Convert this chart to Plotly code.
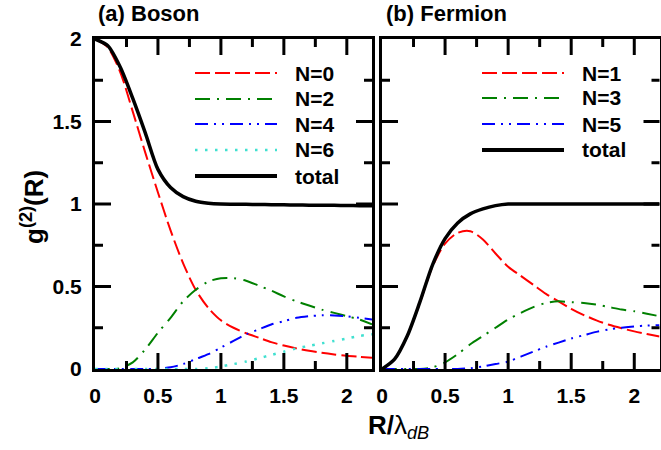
import plotly.graph_objects as go

W, H = 661, 450

# ---------------- data ----------------
R = [0.0, 0.1, 0.2, 0.3, 0.4, 0.5, 0.6, 0.7, 0.8, 0.9, 1.0, 1.1,
     1.2, 1.3, 1.4, 1.5, 1.6, 1.7, 1.8, 1.9, 2.0, 2.1, 2.2]

# (a) Boson
boson_N0 = [2.0, 1.95, 1.8, 1.56, 1.31, 1.07, 0.84, 0.64, 0.48, 0.37, 0.295, 0.25,
            0.217, 0.19, 0.163, 0.142, 0.125, 0.11, 0.098, 0.088, 0.08, 0.074, 0.068]
boson_N2 = [0.0, 0.0, 0.005, 0.04, 0.12, 0.22, 0.31, 0.41, 0.48, 0.53, 0.55, 0.55,
            0.535, 0.505, 0.475, 0.44, 0.41, 0.385, 0.36, 0.34, 0.32, 0.3, 0.27]
boson_N4 = [0.0, 0.0, 0.0, 0.0, 0.0, 0.002, 0.01, 0.03, 0.06, 0.09, 0.13, 0.17,
            0.21, 0.24, 0.27, 0.29, 0.31, 0.32, 0.325, 0.325, 0.32, 0.31, 0.3]
boson_N6 = [0.0, 0.0, 0.0, 0.0, 0.0, 0.0, 0.0, 0.0, 0.0, 0.005, 0.015, 0.03,
            0.045, 0.065, 0.085, 0.105, 0.125, 0.14, 0.155, 0.17, 0.185, 0.2, 0.21]
boson_total = [2.0, 1.96, 1.83, 1.64, 1.43, 1.21, 1.1, 1.045, 1.017, 1.005, 1.0, 0.999,
               0.998, 0.997, 0.996, 0.995, 0.994, 0.993, 0.992, 0.992, 0.991, 0.99, 0.99]

# (b) Fermion
fermion_N1 = [0.0, 0.06, 0.2, 0.4, 0.62, 0.76, 0.825, 0.835, 0.785, 0.7, 0.62, 0.565,
              0.51, 0.455, 0.41, 0.365, 0.327, 0.295, 0.268, 0.247, 0.228, 0.212, 0.197]
fermion_N3 = [0.0, 0.0, 0.0, 0.0, 0.01, 0.04, 0.09, 0.15, 0.2, 0.25, 0.3, 0.34,
              0.375, 0.4, 0.41, 0.405, 0.4, 0.39, 0.375, 0.36, 0.35, 0.335, 0.32]
fermion_N5 = [0.0, 0.0, 0.0, 0.0, 0.0, 0.0, 0.0, 0.005, 0.015, 0.03, 0.045, 0.075,
              0.105, 0.135, 0.16, 0.185, 0.205, 0.225, 0.24, 0.25, 0.258, 0.263, 0.265]
fermion_total = [0.0, 0.06, 0.2, 0.405, 0.63, 0.79, 0.885, 0.94, 0.97, 0.99, 1.0, 1.0,
                 1.0, 1.0, 1.0, 1.0, 1.0, 1.0, 1.0, 1.0, 1.0, 1.0, 1.0]

boson_labels = ["N=0", "N=2", "N=4", "N=6", "total"]
fermion_labels = ["N=1", "N=3", "N=5", "total"]

# tick positions (labels at the major ones)
x_major = [0.5, 1.0, 1.5, 2.0]
x_minor = [0.25, 0.75, 1.25, 1.75]
y_major = [0.5, 1.0, 1.5]
y_minor = [0.25, 0.75, 1.25, 1.75]

# ---------------- styles ----------------
STY = {
    "red": dict(color="#ff0000", width=2, dash="15px,5px"),
    "green": dict(color="#008000", width=2, dash="15px,7px,2px,7px"),
    "blue": dict(color="#0000ff", width=2, dash="13px,6px,2px,6px,2px,6px"),
    "cyan": dict(color="#40e0d0", width=2.5, dash="2.5px,7.5px"),
    "black": dict(color="#000000", width=3.5, dash="solid"),
}
FONT = "Liberation Sans, Arial, Helvetica, sans-serif"

fig = go.Figure()

boson_series = [boson_N0, boson_N2, boson_N4, boson_N6, boson_total]
boson_styles = ["red", "green", "blue", "cyan", "black"]
for ys, s, name in zip(boson_series, boson_styles, boson_labels):
    fig.add_trace(go.Scatter(x=R, y=ys, mode="lines", name=name,
                             line=dict(shape="spline", smoothing=0.8, **STY[s]),
                             xaxis="x", yaxis="y", showlegend=False))

fermion_series = [fermion_N1, fermion_N3, fermion_N5, fermion_total]
fermion_styles = ["red", "green", "blue", "black"]
for ys, s, name in zip(fermion_series, fermion_styles, fermion_labels):
    fig.add_trace(go.Scatter(x=R, y=ys, mode="lines", name=name,
                             line=dict(shape="spline", smoothing=0.8, **STY[s]),
                             xaxis="x2", yaxis="y2", showlegend=False))

def px_x(p):
    return p / W

def px_y(p):
    return 1 - p / H

def axis_common():
    return dict(
        showline=True, linewidth=3, linecolor="black", mirror=True,
        ticks="", tickmode="linear", tick0=0, dtick=0.5,
        showgrid=False, zeroline=False, automargin=False,
        tickfont=dict(family=FONT, size=21, color="black", weight="bold"),
    )

X0, X1, X2a, X2b = 95, 372, 382, 659.5
Y_TOP, Y_BOT = 39, 369
xdom1 = [px_x(X0), px_x(X1)]
xdom2 = [px_x(X2a), px_x(X2b)]
ydom = [px_y(Y_BOT), px_y(Y_TOP)]
fig.update_layout(
    template="none",
    width=W, height=H,
    margin=dict(l=0, r=0, t=0, b=0, autoexpand=False),
    paper_bgcolor="white", plot_bgcolor="white",
    showlegend=False,
    xaxis=dict(domain=xdom1, range=[0, 2.2], anchor="y", ticklabelstandoff=6, **axis_common()),
    yaxis=dict(domain=ydom, range=[0, 2], anchor="x", ticklabelstandoff=6, **axis_common()),
    xaxis2=dict(domain=xdom2, range=[0, 2.2], anchor="y2", ticklabelstandoff=6, **axis_common()),
    yaxis2=dict(domain=ydom, range=[0, 2], anchor="x2", showticklabels=False, **axis_common()),
)

annotations = []
shapes = []

# ---- inward tick marks on all four sides of each panel (placed on the axes' own scales) ----
MAJ, MIN = 16, 8
panels = [("x", "y", X1 - X0), ("x2", "y2", X2b - X2a)]
plot_h = Y_BOT - Y_TOP
for xa, ya, pw in panels:
    for vals, ln in ((x_major, MAJ), (x_minor, MIN)):
        f = ln / plot_h
        for v in vals:
            for a, b in ((0, f), (1, 1 - f)):
                shapes.append(dict(type="line", xref=xa, yref=ya + " domain", x0=v, x1=v, y0=a, y1=b,
                                   line=dict(color="black", width=3), layer="above"))
    for vals, ln in ((y_major, MAJ), (y_minor, MIN)):
        f = ln / pw
        for v in vals:
            for a, b in ((0, f), (1, 1 - f)):
                shapes.append(dict(type="line", xref=xa + " domain", yref=ya, x0=a, x1=b, y0=v, y1=v,
                                   line=dict(color="black", width=3), layer="above"))

# panel titles
annotations.append(dict(text="<b>(a) Boson</b>", x=px_x(96), y=px_y(14), xref="paper", yref="paper",
                        xanchor="left", yanchor="middle", showarrow=False,
                        font=dict(family=FONT, size=22, color="black")))
annotations.append(dict(text="<b>(b) Fermion</b>", x=px_x(384), y=px_y(14), xref="paper", yref="paper",
                        xanchor="left", yanchor="middle", showarrow=False,
                        font=dict(family=FONT, size=22, color="black")))

# axis titles
annotations.append(dict(text="<b>g<sup>(2)</sup>(R)</b>", x=px_x(33), y=px_y(207), xref="paper", yref="paper",
                        xanchor="center", yanchor="middle", textangle=-90, showarrow=False,
                        font=dict(family=FONT, size=26, color="black")))
annotations.append(dict(text="<b>R/</b>λ<sub><i>dB</i></sub>", x=px_x(398), y=px_y(426), xref="paper", yref="paper",
                        xanchor="center", yanchor="middle", showarrow=False,
                        font=dict(family=FONT, size=26, color="black")))

# legends (drawn as line samples + labels)
def add_legend(x0, x1, xt, rows, labels, styles):
    for yy, lab, s in zip(rows, labels, styles):
        st = STY[s]
        shapes.append(dict(type="line", xref="paper", yref="paper",
                           x0=px_x(x0), x1=px_x(x1), y0=px_y(yy), y1=px_y(yy),
                           line=dict(color=st["color"], width=st["width"] if s != "black" else 4, dash=st["dash"])))
        annotations.append(dict(text="<b>" + lab + "</b>", x=px_x(xt), y=px_y(yy), xref="paper", yref="paper",
                                xanchor="left", yanchor="middle", showarrow=False,
                                font=dict(family=FONT, size=21, color="black")))

add_legend(195, 277, 293, [73, 99, 124, 150, 176], boson_labels, boson_styles)
add_legend(482, 564, 580, [73, 98, 124, 150], fermion_labels, fermion_styles)

fig.update_layout(annotations=annotations, shapes=shapes)

fig.write_html("out.html", config={"displayModeBar": False},
               post_script="document.body.style.margin='0px';")
